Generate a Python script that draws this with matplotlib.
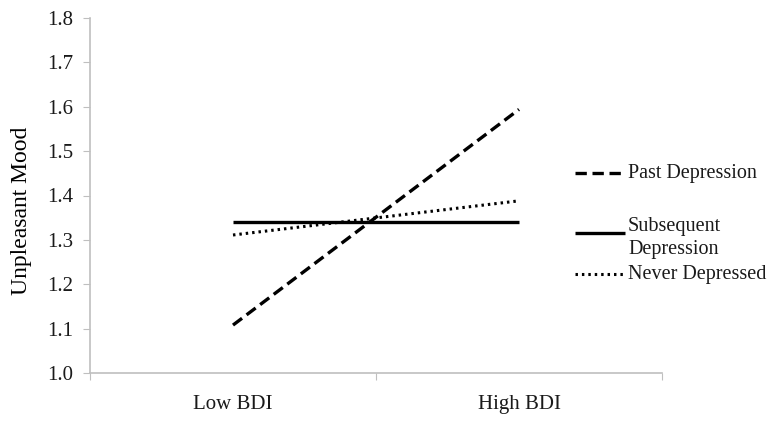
import matplotlib
matplotlib.use("Agg")
import matplotlib.pyplot as plt
from matplotlib.lines import Line2D

plt.rcParams['font.family'] = ['Liberation Serif', 'DejaVu Serif']
plt.rcParams['text.color'] = '#1a1a1a'

categories = ['Low BDI', 'High BDI']
past_depression = [1.108, 1.594]
subsequent_depression = [1.341, 1.341]
never_depressed = [1.311, 1.388]
series_names = ['Past Depression', 'Subsequent\nDepression', 'Never Depressed']

W, H = 778, 422
fig = plt.figure(figsize=(W / 100, H / 100), dpi=100)
ax = fig.add_axes([90 / W, 1 - 373 / H, 572 / W, 355 / H])

x = range(len(categories))
styles = [
    dict(color='black', lw=2.4, ls=(0, (3.4, 1.7)), dash_capstyle='butt'),
    dict(color='black', lw=2.4, ls='-', solid_capstyle='butt'),
    dict(color='black', lw=2.2, ls=(0, (0.8, 1.3)), dash_capstyle='butt'),
]
for ys, st in zip([past_depression, subsequent_depression, never_depressed], styles):
    ax.plot(x, ys, **st)

ax.set_xlim(-0.5, 1.5)
ax.set_ylim(1.0, 1.8)
yt = [1.0 + 0.1 * i for i in range(9)]
ax.set_yticks(yt)
ax.set_yticklabels(['%.1f' % v for v in yt])
ax.set_xticks([-0.5, 0.5, 1.5])
ax.set_xticklabels([])
ax.set_xticks([0, 1], minor=True)
ax.set_xticklabels(categories, minor=True)
ax.tick_params(axis='x', which='minor', length=0, pad=16, labelsize=15, labelcolor='#1a1a1a')
ax.tick_params(axis='x', which='major', length=5, color='#bfbfbf')
ax.tick_params(axis='y', length=5, color='#bfbfbf', labelsize=15, pad=7, labelcolor='#1a1a1a')

for s in ['top', 'right']:
    ax.spines[s].set_visible(False)
for s in ['left', 'bottom']:
    ax.spines[s].set_color('#bfbfbf')
    ax.spines[s].set_linewidth(1.2)

ax.set_ylabel('Unpleasant Mood', fontsize=17)
ax.yaxis.set_label_coords((32 - 90) / 572, (373 - 211) / 355)

# legend, laid out by hand like the original
key_y = [173, 233, 274]
text_y = [173, 238, 274]
for name, st, ky, ty in zip(series_names, styles, key_y, text_y):
    fig.add_artist(Line2D([575 / W, 625 / W], [1 - ky / H, 1 - ky / H],
                          transform=fig.transFigure, **st))
    fig.text(628 / W, 1 - ty / H, name, fontsize=14.5, ha='left', va='center',
             linespacing=1.25)

fig.savefig('out.png', dpi=100)
